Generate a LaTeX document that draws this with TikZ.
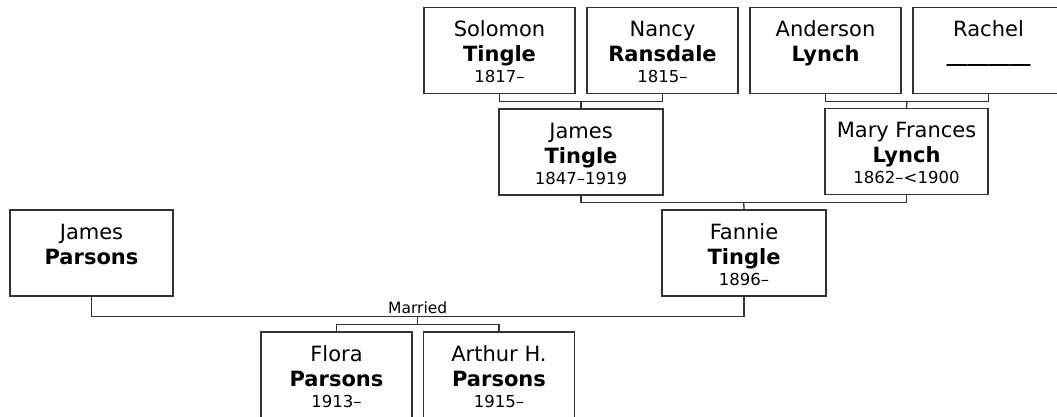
\documentclass[tikz,border=0pt]{standalone}
\usepackage{fontspec}
\setmainfont{DejaVu Sans}
\usetikzlibrary{calc}
\newcommand{\namefont}{\fontsize{21}{25}\selectfont}
\newcommand{\datefont}{\fontsize{16.5}{21}\selectfont}
\newcommand{\pers}[4]{\parbox[c][86pt][t]{#1}{\centering\namefont\rule{0pt}{29pt}#2\par\textbf{#3}\par\datefont #4\par}}
\tikzset{
  personbox/.style={draw=black!80, line width=1.3pt, inner sep=0pt, fill=white},
  link/.style={draw=black!80, line width=1.3pt},
  marrlabel/.style={font=\fontsize{15.5}{18}\selectfont, inner sep=0pt, anchor=base}
}
\begin{document}
\begin{tikzpicture}[x=1pt,y=1pt]
\clip (0,0) rectangle (1057,-416);
\fill[white] (0,0) rectangle (1057,-416);
% people
\node[personbox] (sol) at (499.5,-50.5) {\pers{151pt}{Solomon}{Tingle}{1817–}};
\node[personbox] (nan) at (662.5,-50.5) {\pers{151pt}{Nancy}{Ransdale}{1815–}};
\node[personbox] (and) at (825.5,-50.5) {\pers{151pt}{Anderson}{Lynch}{}};
\node[personbox] (rac) at (988.5,-50.5) {\pers{151pt}{Rachel}{\_\_\_\_\_\_\_\_}{}};
\node[personbox] (jt) at (581,-152) {\pers{164pt}{James}{Tingle}{1847–1919}};
\node[personbox] (mf) at (906.5,-151.5) {\pers{163pt}{Mary Frances}{Lynch}{1862–<1900}};
\node[personbox] (fan) at (744,-253) {\pers{164pt}{Fannie}{Tingle}{1896–}};
\node[personbox] (jp) at (91.5,-253) {\pers{163pt}{James}{Parsons}{}};
\node[personbox] (flo) at (336.5,-375) {\pers{151pt}{Flora}{Parsons}{1913–}};
\node[personbox] (art) at (499,-375) {\pers{151pt}{Arthur H.}{Parsons}{1915–}};
% junctions
\coordinate (j1) at ($(sol.south)!0.5!(nan.south)+(0,-7)$);
\coordinate (j2) at ($(and.south)!0.5!(rac.south)+(0,-7)$);
\coordinate (j3) at ($(jt.south)!0.5!(mf.south)+(0,-7)$);
\coordinate (j4) at ($(jp.south)!0.5!(fan.south)+(0,-20)$);
\coordinate (j5) at ($(j4)+(0,-8)$);
% connectors
\draw[link] (sol.south) |- (j1) -| (nan.south);
\draw[link] (j1) -- (jt.north);
\draw[link] (and.south) |- (j2) -| (rac.south);
\draw[link] (j2) -- (mf.north);
\draw[link] (jt.south) |- (j3) -| (mf.south);
\draw[link] (j3) -- (fan.north);
\draw[link] (jp.south) |- (j4) -| (fan.south);
\draw[link] (j4) -- (j5);
\draw[link] (flo.north) |- (j5) -| (art.north);
\node[marrlabel] (marr) at ($(j4)+(0,3.5)$) {Married};
\end{tikzpicture}
\end{document}
